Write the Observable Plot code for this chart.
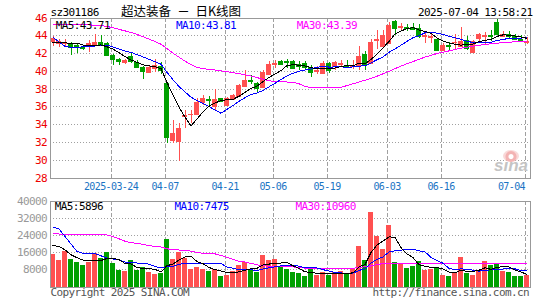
<!DOCTYPE html>
<html><head><meta charset="utf-8">
<script src="https://cdn.jsdelivr.net/npm/d3@7"></script>
<script src="https://cdn.jsdelivr.net/npm/@observablehq/plot@0.6"></script>
<style>
html,body{margin:0;padding:0;background:#fff;}
#chart{position:relative;width:545px;height:300px;overflow:hidden;background:#fff;}
#chart svg{position:absolute;left:0;}
#eye{position:absolute;left:503px;top:150px;width:16px;height:12px;border-radius:50%;background:radial-gradient(circle at 50% 55%, #fff 0 2px, #f3b3b3 3px 5px, rgba(243,179,179,0.5) 6px);}
</style></head><body><div id="chart"></div>
<script>
// ---------- data ----------
const dates = ["03-10","03-11","03-12","03-13","03-14","03-17","03-18","03-19","03-20","03-21","03-24","03-25","03-26","03-27","03-28","03-31",
"04-01","04-02","04-03","04-07","04-08","04-09","04-10","04-11","04-14","04-15","04-16","04-17","04-18","04-21","04-22","04-23","04-24","04-25","04-28","04-29","04-30",
"05-06","05-07","05-08","05-09","05-12","05-13","05-14","05-15","05-16","05-19","05-20","05-21","05-22","05-23","05-26","05-27","05-28","05-29","05-30",
"06-03","06-04","06-05","06-06","06-09","06-10","06-11","06-12","06-13","06-16","06-17","06-18","06-19","06-20","06-23","06-24","06-25","06-26","06-27","06-30",
"07-01","07-02","07-03","07-04"];
const open = [43.32,43.13,43.15,43.13,42.94,42.70,42.75,43.02,43.20,43.13,41.81,41.32,41.00,41.70,40.94,40.38,39.92,40.30,40.57,38.60,32.19,32.11,34.95,35.10,35.13,36.45,36.85,36.04,36.91,36.15,36.79,37.17,38.30,38.98,38.60,38.15,39.66,40.79,41.06,41.13,41.13,40.79,40.87,40.42,40.00,39.81,40.87,40.60,40.80,40.68,40.55,40.49,41.89,40.87,43.50,42.75,43.13,45.66,44.98,44.90,44.94,44.83,43.92,43.85,43.58,42.30,42.90,43.20,42.85,43.43,42.10,43.65,43.95,44.05,45.51,43.95,44.15,43.95,43.60,43.30];
const high = [43.89,43.58,43.58,43.20,43.13,42.90,43.43,44.19,44.08,43.30,41.90,41.40,41.32,42.00,41.20,40.50,40.50,41.32,40.94,38.70,34.45,34.15,35.58,35.58,36.90,37.28,37.15,37.98,37.00,37.02,37.40,38.53,40.04,39.58,38.79,40.11,41.06,41.17,41.25,41.36,41.25,41.06,41.06,40.68,40.50,41.06,40.94,41.06,41.17,41.17,41.17,42.75,42.19,43.60,44.55,44.57,45.50,45.77,45.40,45.28,45.40,45.28,44.26,44.19,43.70,43.13,43.20,44.20,44.90,43.90,43.45,44.25,44.38,44.64,45.89,44.49,44.49,44.10,44.00,43.80];
const low = [42.75,42.68,42.83,41.81,42.00,42.40,42.10,42.75,42.94,41.80,40.68,40.68,40.80,40.90,40.30,39.06,39.80,39.90,39.66,31.90,31.89,29.85,33.62,34.08,35.05,36.15,36.15,35.58,36.53,36.15,36.72,37.02,38.23,38.53,37.55,38.04,39.55,40.30,40.68,40.30,40.19,40.11,40.11,39.36,39.70,39.74,39.81,40.11,40.57,40.42,40.19,40.11,40.08,40.75,42.45,42.68,43.00,44.08,44.57,44.45,44.57,43.70,43.13,43.13,42.20,42.20,42.30,42.50,42.70,42.40,42.00,43.30,43.06,43.36,44.19,43.81,43.62,43.51,43.36,43.00];
const close = [43.70,43.32,43.30,42.68,42.83,42.62,43.13,43.25,43.00,41.81,41.32,41.06,41.17,41.06,40.42,40.00,40.38,40.68,40.10,32.57,33.02,33.58,35.00,35.15,36.49,37.00,36.72,36.79,36.57,36.91,37.28,38.42,38.98,38.83,38.10,39.89,40.79,40.87,40.75,40.98,40.30,40.60,40.38,39.92,40.10,40.87,40.04,40.94,40.87,40.49,40.65,41.62,40.68,43.21,43.60,44.08,45.21,44.83,45.02,44.83,44.72,43.89,43.98,43.90,42.30,42.94,42.85,43.30,43.35,42.57,43.35,44.10,44.05,43.95,44.19,44.20,43.95,43.55,43.45,43.40];
const ma5 = [43.25,43.20,43.20,43.15,43.17,42.95,42.91,42.90,42.97,42.76,42.50,42.09,41.67,41.28,41.01,40.74,40.61,40.51,40.32,38.75,37.35,35.99,34.85,33.86,34.65,35.44,36.07,36.43,36.71,36.80,36.85,37.19,37.63,38.08,38.32,38.84,39.32,39.70,40.08,40.66,40.74,40.70,40.60,40.44,40.26,40.37,40.26,40.37,40.56,40.64,40.60,40.91,40.86,41.33,41.95,42.64,43.36,44.19,44.55,44.79,44.92,44.66,44.49,44.26,43.76,43.40,43.19,43.06,42.95,43.00,43.08,43.33,43.48,43.60,43.93,44.10,44.07,43.97,43.87,43.71];
const ma10 = [43.85,43.30,42.80,42.70,42.70,42.75,42.80,42.85,42.90,42.96,42.73,42.50,42.29,42.13,41.88,41.62,41.35,41.09,40.80,39.88,39.05,38.30,37.68,37.09,36.70,36.40,36.03,35.64,35.29,35.72,36.15,36.63,37.03,37.40,37.56,37.85,38.26,38.66,39.08,39.49,39.79,40.01,40.15,40.26,40.46,40.56,40.48,40.49,40.50,40.45,40.49,40.59,40.62,40.95,41.30,41.62,42.14,42.52,42.94,43.37,43.78,44.01,44.34,44.41,44.28,44.16,43.93,43.77,43.61,43.38,43.24,43.26,43.27,43.28,43.47,43.59,43.70,43.73,43.74,43.81];
const ma30 = [45.30,45.30,45.28,45.27,45.25,45.24,45.22,45.20,45.15,45.05,44.90,44.72,44.55,44.38,44.15,43.90,43.62,43.35,43.05,42.55,42.05,41.60,41.15,40.75,40.45,40.30,40.22,40.15,40.05,39.95,39.85,39.75,39.62,39.48,39.30,39.10,38.95,38.85,38.82,38.80,38.78,38.60,38.30,38.18,38.15,38.15,38.15,38.15,38.20,38.40,38.60,38.80,39.00,39.20,39.45,39.72,40.00,40.30,40.60,40.85,41.10,41.35,41.60,41.80,42.00,42.15,42.30,42.45,42.60,42.72,42.83,42.93,43.02,43.10,43.17,43.23,43.28,43.32,43.36,43.39];
const volume = [15200,12200,16600,12700,11300,9900,11300,15700,13300,16000,10800,7500,7100,12200,7500,8900,6800,5700,6100,22100,12700,16000,13200,8000,9300,8000,7100,8000,5000,5500,7100,9900,11600,8300,6800,14600,12100,12900,9400,8200,6800,6300,4700,8300,5500,6800,5200,6600,7100,5800,8300,18800,12200,34800,23500,17300,28700,11500,10500,8600,9400,11800,7700,8200,8600,5500,4700,6300,13700,6300,5500,7400,11800,10000,10800,7400,6900,4700,4900,5580];
const vma5 = [19300,18800,17300,15000,13620,12552,12364,12176,12302,13242,13432,12678,10952,10732,9038,8660,8504,8222,6998,9916,10670,12520,14026,14402,11830,10888,9100,8064,7468,6714,6526,7090,7812,8472,8724,10230,10670,10922,11140,11422,9854,8694,7062,6844,6310,6310,6090,6466,6214,6276,6590,9320,10450,16004,19552,21340,23316,23158,18294,15312,13742,10354,9602,9132,9132,8348,6936,6654,7752,7282,7282,7814,8912,8182,9086,9468,9374,7960,6940,5896];
const vma10 = [27770,27000,23500,20000,16500,15700,15600,15500,14500,13431,12992,12521,11564,11517,11140,11046,10591,9587,8865,9477,9665,10512,11124,10700,10873,10779,10810,11045,10935,9272,8707,8095,7938,7970,7719,8378,8880,9367,9806,10073,10042,9682,8992,8992,8866,8082,7392,6764,6529,6293,6450,7705,8458,11109,12914,13965,16318,16804,17149,17432,17541,16835,16380,13713,12222,11045,8645,8128,8442,8207,7815,7375,7783,7967,8184,8375,8594,8436,7561,7475];
const vma30 = [25100,24650,24650,24650,24600,24600,24600,24550,24500,24200,23400,22400,21300,20600,20300,19800,19200,18900,18600,17800,17300,17200,17100,16700,16000,15700,15600,15400,14700,13800,12900,12000,11600,11000,10300,9900,9600,9450,9400,9400,9350,9100,8800,8700,8650,8650,8630,8630,8630,8630,8650,9100,9400,9800,10400,10900,10950,11000,11000,10980,10980,10990,10990,10980,10980,10970,10970,10980,10990,10980,10970,10960,10960,10970,10970,10960,10960,10960,10960,10960];
const priceTicks = [28,30,32,34,36,38,40,42,44,46];
const volumeTicks = [8000,16000,24000,32000,40000];
const tickDates = ["03-24","04-07","04-21","05-06","05-19","06-03","06-16","07-04"];
const tickLabels = ["2025-03-24","04-07","04-21","05-06","05-19","06-03","06-16","07-04"];
const stockCode = "sz301186";
const stockName = "超达装备";
const chartKind = "日K线图";
const stamp = "2025-07-04 13:58:21";
const priceMA = ["MA5:43.71","MA10:43.81","MA30:43.39"];
const volumeMA = ["MA5:5896","MA10:7475","MA30:10960"];

// ---------- drawing ----------
const RED = "#ff5050", GREEN = "#00a000", GRID = "#a0a0a0", FRAME = "#999";
const MA_COLORS = ["#000000", "#0000ff", "#ff00ff"];
const MONO = "DejaVu Sans Mono";
const candles = dates.map((d, i) => ({i, o: open[i], h: high[i], l: low[i], c: close[i], v: volume[i]}));
const ups = candles.filter(d => d.c >= d.o), downs = candles.filter(d => d.c < d.o);
const gridIdx = tickDates.map(d => dates.indexOf(d));
const HALF = 2.5 / 6;
const xScale = {type: "linear", domain: [-0.5, dates.length - 0.5], axis: null};
const styleStr = `font-family:'${MONO}';font-size:10px;shape-rendering:crispEdges;overflow:visible;background:transparent;`;
const lbl = (s, anchor, dx, dy, o = {}) => Plot.text([s], {text: d => d, frameAnchor: anchor, dx, dy, lineAnchor: "middle", textAnchor: "start", ...o});
const candleMarks = (set, color) => [
  Plot.ruleX(set, {x: "i", y1: "l", y2: "h", stroke: color}),
  Plot.rect(set, {x1: d => d.i - HALF, x2: d => d.i + HALF, y1: "o", y2: "c", fill: color}),
  Plot.ruleY(set, {x1: d => d.i - HALF, x2: d => d.i + HALF, y: "o", stroke: color}),
  Plot.ruleY(set, {x1: d => d.i - HALF, x2: d => d.i + HALF, y: "c", stroke: color})
];
const maLine = (arr, color) => Plot.lineY(arr, {x: (d, i) => i, y: d => d, stroke: color, strokeWidth: 1});

const price = Plot.plot({
  width: 545, height: 195, marginLeft: 49.5, marginRight: 15.5, marginTop: 17.5, marginBottom: 17.5,
  style: styleStr,
  x: xScale, y: {domain: [28, 46], axis: null},
  marks: [
    Plot.ruleY(priceTicks.slice(1, -1), {stroke: GRID, strokeDasharray: "1,2"}),
    Plot.ruleX(gridIdx, {x: d => d - 1/3, stroke: GRID, strokeDasharray: "4,2"}),
    ...candleMarks(ups, RED),
    ...candleMarks(downs, GREEN),
    maLine(ma30, MA_COLORS[2]),
    maLine(ma10, MA_COLORS[1]),
    maLine(ma5, MA_COLORS[0]),
    Plot.frame({stroke: FRAME}),
    Plot.text(priceTicks, {y: d => d, text: d => String(d), frameAnchor: "left", dx: -3, textAnchor: "end", lineAnchor: "middle", fill: "#ee0000", fontSize: 11}),
    Plot.text(gridIdx.slice(0, -1), {x: d => d - 1/3, text: (d, i) => tickLabels[i], frameAnchor: "bottom", dy: 8.5, lineAnchor: "middle", fill: "#1a74c4"}),
    Plot.text(gridIdx.slice(-1), {x: d => d - 1/3, text: () => tickLabels[tickLabels.length - 1], frameAnchor: "bottom", dx: 0, dy: 8.5, textAnchor: "end", lineAnchor: "middle", fill: "#1a74c4"}),
    lbl(stockCode, "top-left", 0.5, -6, {fontSize: 11}),
    lbl(stockName, "top-left", 71, -6.5, {fontFamily: "Noto Sans CJK SC", fontSize: 12.5}),
    lbl("－", "top-left", 133.5, -6.5, {fontFamily: "Noto Sans CJK SC", fontSize: 12.5, textAnchor: "middle"}),
    lbl(chartKind, "top-left", 145.5, -6.5, {fontFamily: "Noto Sans CJK SC", fontSize: 12.5}),
    lbl(stamp, "top-right", 2.5, -6, {textAnchor: "end", fontSize: 11}),
    lbl(priceMA[0], "top-left", 5.7, 7.5, {fill: MA_COLORS[0], fontSize: 11}),
    lbl(priceMA[1], "top-left", 125.9, 7.5, {fill: MA_COLORS[1], fontSize: 11}),
    lbl(priceMA[2], "top-left", 246.8, 7.5, {fill: MA_COLORS[2], fontSize: 11}),
    lbl("sina", "bottom-right", -2, -12, {textAnchor: "end", fontFamily: "Liberation Sans", fontSize: 17, fontWeight: "bold", fontStyle: "italic", fill: "#c4c4c4"})
  ]
});

const vol = Plot.plot({
  width: 545, height: 105, marginLeft: 49.5, marginRight: 15.5, marginTop: 5.5, marginBottom: 13.5,
  style: styleStr,
  x: xScale, y: {domain: [0, 40000], axis: null},
  marks: [
    Plot.ruleY(volumeTicks.slice(0, -1), {stroke: GRID, strokeDasharray: "1,2"}),
    Plot.ruleX(gridIdx, {x: d => d - 1/3, stroke: GRID, strokeDasharray: "4,2"}),
    Plot.rect(ups, {x1: d => d.i - HALF, x2: d => d.i + HALF, y1: 0, y2: "v", fill: RED}),
    Plot.rect(downs, {x1: d => d.i - HALF, x2: d => d.i + HALF, y1: 0, y2: "v", fill: GREEN}),
    maLine(vma30, MA_COLORS[2]),
    maLine(vma10, MA_COLORS[1]),
    maLine(vma5, MA_COLORS[0]),
    Plot.frame({stroke: FRAME}),
    Plot.text(volumeTicks, {y: d => d, text: d => String(d), frameAnchor: "left", dx: -3, textAnchor: "end", lineAnchor: "middle", fill: "#999", fontSize: 11}),
    lbl(volumeMA[0], "top-left", 4.8, 5.5, {fill: MA_COLORS[0], fontSize: 11}),
    lbl(volumeMA[1], "top-left", 124.5, 5.5, {fill: MA_COLORS[1], fontSize: 11}),
    lbl(volumeMA[2], "top-left", 245.5, 5.5, {fill: MA_COLORS[2], fontSize: 11}),
    lbl("Copyright 2025 SINA.COM", "bottom-left", 0.5, 5.5, {fill: "#555", fontSize: 11}),
    lbl("http://finance.sina.com.cn", "bottom-right", -1, 5.5, {fill: "#555", textAnchor: "end", fontSize: 11})
  ]
});

const chart = document.getElementById("chart");
price.style.top = "0px";
vol.style.top = "195px";
chart.appendChild(price);
chart.appendChild(vol);
// condense monospace text to the 6px cell of the original bitmap font
d3.select(chart).selectAll("text").each(function() {
  const ff = this.closest("g") && this.closest("g").getAttribute("font-family");
  if (!ff || ff === MONO) this.setAttribute("letter-spacing", "-0.6");
});
const eye = document.createElement("div");
eye.id = "eye";
chart.appendChild(eye);
</script>
</body></html>
